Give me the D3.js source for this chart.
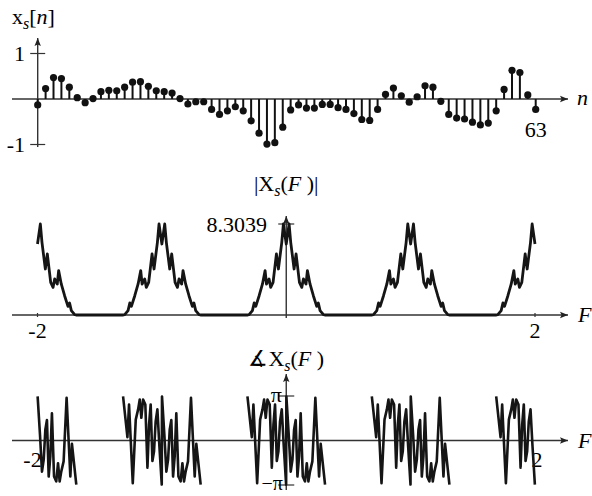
<!DOCTYPE html>
<html><head><meta charset="utf-8">
<script src="https://cdn.jsdelivr.net/npm/d3@7"></script>
<style>
html,body{margin:0;padding:0;background:#fff;}
svg{display:block;font-family:"Liberation Serif","Times New Roman",serif;}
</style></head>
<body>
<script>
// ---- DATA ----
const nValues = d3.range(0, 64);
const xsValues = [
 -0.13, 0.23, 0.47, 0.45, 0.26, 0.03, -0.08, 0.01, 0.16, 0.19,
  0.18, 0.26, 0.37, 0.38, 0.28, 0.18, 0.16, 0.13, 0.01, -0.11,
 -0.06, -0.06, -0.23, -0.34, -0.26, -0.17, -0.26, -0.48, -0.75, -0.99,
 -0.96, -0.62, -0.24, -0.13, -0.20, -0.20, -0.12, -0.12, -0.19, -0.23,
 -0.32, -0.45, -0.47, -0.23, 0.10, 0.24, 0.07, -0.07, 0.05, 0.29,
  0.26, -0.05, -0.34, -0.42, -0.44, -0.51, -0.57, -0.53, -0.26, 0.21,
  0.63, 0.58, 0.09, -0.23
];
// one period of |Xs(F)| around each integer F (offset dF, magnitude)
const magOffsets = [-0.5,-0.31,-0.299,-0.272,-0.258,-0.245,-0.218,-0.191,-0.170,-0.159,-0.138,-0.125,-0.106,-0.079,-0.063,-0.036,-0.023,0,
  0.023,0.036,0.063,0.079,0.106,0.125,0.138,0.159,0.170,0.191,0.218,0.245,0.258,0.272,0.299,0.31,0.5];
const magValues = [0,0,0.03,0.40,1.10,0.79,1.76,2.83,4.05,2.83,3.29,2.52,2.98,5.57,4.20,6.63,8.3039,6.48,
  8.3039,6.63,4.20,5.57,2.98,2.52,3.29,2.83,4.05,2.83,1.76,0.79,1.10,0.40,0.03,0,0];
// one period of phase (in units of pi) around each integer F
const phaseOffsets = [-0.312,-0.277,-0.264,-0.234,-0.210,-0.191,-0.178,-0.165,-0.151,-0.133,-0.116,-0.103,-0.090,-0.076,-0.063,-0.050,-0.036,-0.020,-0.001,
  0.001,0.020,0.036,0.050,0.063,0.076,0.090,0.103,0.116,0.133,0.151,0.165,0.178,0.191,0.210,0.234,0.264,0.277,0.312];
const phaseValues = [0.99,0.075,0.81,-0.96,0.47,0.70,0.92,0.51,0.92,0.81,-0.61,0.36,0.81,-0.46,-0.24,0.43,0.70,-0.13,-0.99,
  0.99,0.13,-0.70,-0.43,0.24,0.46,-0.81,-0.36,0.61,-0.81,-0.92,-0.51,-0.92,-0.70,-0.47,0.96,-0.81,-0.075,-0.99];
const periodCenters = [-2,-1,0,1,2];
const FTicks = [-2, 2];
const magPeak = 8.3039;

// ---- CHART ----
const W = 592, H = 496;
const svg = d3.select("body").append("svg").attr("width", W).attr("height", H);

svg.append("defs").append("marker")
  .attr("id","arr").attr("viewBox","0 0 10 10").attr("refX",10).attr("refY",5)
  .attr("markerWidth",10).attr("markerHeight",8).attr("markerUnits","userSpaceOnUse")
  .attr("orient","auto")
  .append("path").attr("d","M0,1 L10,5 L0,9 L2,5 Z").attr("fill","#222");

const axisColor = "#333";
function hAxis(y, x0, x1){
  svg.append("line").attr("x1",x0).attr("x2",x1).attr("y1",y).attr("y2",y)
    .attr("stroke",axisColor).attr("stroke-width",1.4).attr("marker-end","url(#arr)");
}
function vAxis(x, y0, y1){
  svg.append("line").attr("x1",x).attr("x2",x).attr("y1",y0).attr("y2",y1)
    .attr("stroke",axisColor).attr("stroke-width",1.4).attr("marker-end","url(#arr)");
}
function hTick(x, y, half){
  svg.append("line").attr("x1",x-half).attr("x2",x+half).attr("y1",y).attr("y2",y)
    .attr("stroke",axisColor).attr("stroke-width",1.2);
}

// ---------- Panel 1: stem ----------
const nx = d3.scaleLinear().domain([0,63]).range([37.7,535.7]);
const y1 = d3.scaleLinear().domain([-1,1]).range([144.5,53.5]);

hAxis(y1(0), 12, 568);
vAxis(nx(0), 147, 38);
[1,-1].forEach(v => hTick(nx(0), y1(v), 7.5));
svg.append("text").attr("x",25).attr("y",y1(1)+7).attr("text-anchor","end").attr("font-size",22).text("1");
svg.append("text").attr("x",25).attr("y",y1(-1)+7).attr("text-anchor","end").attr("font-size",22).text("-1");
svg.append("text").attr("x",nx(63)).attr("y",137).attr("text-anchor","middle").attr("font-size",22).text("63");
svg.append("text").attr("x",577).attr("y",y1(0)+6).attr("font-size",22).attr("font-style","italic").text("n");
const t1 = svg.append("text").attr("x",12).attr("y",24).attr("font-size",22);
t1.append("tspan").text("x");
t1.append("tspan").attr("font-style","italic").attr("font-size",16).attr("dy",5).text("s");
t1.append("tspan").attr("dy",-5).text("[");
t1.append("tspan").attr("font-style","italic").text("n");
t1.append("tspan").text("]");

const stems = svg.append("g");
stems.selectAll("line").data(nValues).join("line")
  .attr("x1", d => nx(d)).attr("x2", d => nx(d))
  .attr("y1", y1(0)).attr("y2", d => y1(xsValues[d]))
  .attr("stroke","#111").attr("stroke-width",2);
stems.selectAll("circle").data(nValues).join("circle")
  .attr("cx", d => nx(d)).attr("cy", d => y1(xsValues[d])).attr("r",3.6)
  .attr("fill","#111");

// ---------- Panel 2: magnitude ----------
const Fx = d3.scaleLinear().domain([-2,2]).range([37.5,535]);
const ym = d3.scaleLinear().domain([0,magPeak]).range([315,224]);

hAxis(ym(0), 12, 568);
vAxis(Fx(0), 318, 216);
hTick(Fx(0), ym(magPeak), 8);
FTicks.forEach(f => svg.append("line").attr("x1",Fx(f)).attr("x2",Fx(f)).attr("y1",ym(0)-2).attr("y2",ym(0)+2).attr("stroke",axisColor).attr("stroke-width",1.2));
svg.append("text").attr("x",267).attr("y",ym(magPeak)+8).attr("text-anchor","end").attr("font-size",22).text("8.3039");
svg.append("text").attr("x",Fx(-2)).attr("y",338).attr("text-anchor","middle").attr("font-size",22).text("-2");
svg.append("text").attr("x",Fx(2)).attr("y",338).attr("text-anchor","middle").attr("font-size",22).text("2");
svg.append("text").attr("x",578).attr("y",ym(0)+7).attr("font-size",22).attr("font-style","italic").text("F");
const t2 = svg.append("text").attr("x",Fx(0)).attr("y",191).attr("text-anchor","middle").attr("font-size",22);
t2.append("tspan").text("|X");
t2.append("tspan").attr("font-style","italic").attr("font-size",16).attr("dy",5).text("s");
t2.append("tspan").attr("dy",-5).text("(");
t2.append("tspan").attr("font-style","italic").text("F");
t2.append("tspan").text(" )|");

const magPts = [];
periodCenters.forEach(k => magOffsets.forEach((o,i) => {
  const f = k + o;
  if (f >= -2 && f <= 2) magPts.push([f, magValues[i]]);
}));
magPts.sort((a,b) => a[0]-b[0]);
svg.append("path").datum(magPts)
  .attr("d", d3.line().x(d => Fx(d[0])).y(d => ym(d[1])))
  .attr("fill","none").attr("stroke","#151515").attr("stroke-width",2.8).attr("stroke-linejoin","round");

// ---------- Panel 3: phase ----------
const yp = d3.scaleLinear().domain([-Math.PI, Math.PI]).range([485,396]);
hAxis(yp(0), 12, 568);
vAxis(Fx(0), 490, 374);
hTick(Fx(0), yp(Math.PI), 8);
hTick(Fx(0), yp(-Math.PI), 8);
svg.append("text").attr("x",Fx(0)-10).attr("y",yp(Math.PI)+6).attr("text-anchor","middle").attr("font-size",22).text("π");
svg.append("text").attr("x",Fx(0)-14).attr("y",yp(-Math.PI)+5).attr("text-anchor","middle").attr("font-size",20).text("−π");
svg.append("text").attr("x",Fx(-2)-5).attr("y",467).attr("text-anchor","middle").attr("font-size",22).text("-2");
svg.append("text").attr("x",Fx(2)+2).attr("y",467).attr("text-anchor","middle").attr("font-size",22).text("2");
svg.append("text").attr("x",578).attr("y",yp(0)+7).attr("font-size",22).attr("font-style","italic").text("F");
const t3 = svg.append("text").attr("x",Fx(0)).attr("y",366).attr("text-anchor","middle").attr("font-size",22);
t3.append("tspan").text("∡X");
t3.append("tspan").attr("font-style","italic").attr("font-size",16).attr("dy",5).text("s");
t3.append("tspan").attr("dy",-5).text("(");
t3.append("tspan").attr("font-style","italic").text("F");
t3.append("tspan").text(" )");

const phLine = d3.line().x(d => Fx(d[0])).y(d => yp(d[1]*Math.PI));
periodCenters.forEach(k => {
  const pts = [];
  phaseOffsets.forEach((o,i) => {
    const f = k + o;
    if (f >= -2 && f <= 2) pts.push([f, phaseValues[i]]);
  });
  if (pts.length > 1) {
    svg.append("path").datum(pts).attr("d", phLine)
      .attr("fill","none").attr("stroke","#151515").attr("stroke-width",2.6).attr("stroke-linejoin","round");
  }
});
</script>
</body></html>
